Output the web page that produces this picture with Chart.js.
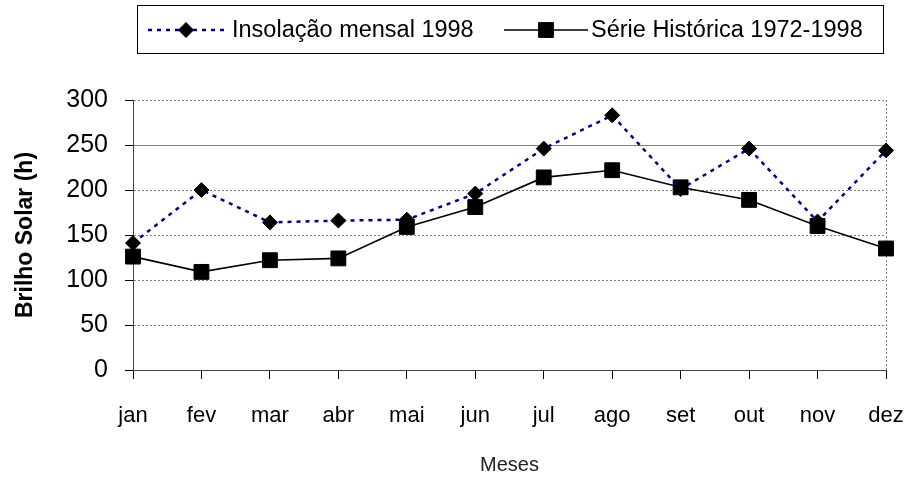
<!DOCTYPE html>
<html>
<head>
<meta charset="utf-8">
<script src="https://cdn.jsdelivr.net/npm/chart.js@4"></script>
<style>
  html, body { margin: 0; padding: 0; background: #fff; }
  #wrap { width: 904px; height: 477px; }
</style>
</head>
<body>
<div id="wrap"><canvas id="brilhoChart" width="904" height="477"></canvas></div>
<script>
// data
const months = ['jan', 'fev', 'mar', 'abr', 'mai', 'jun', 'jul', 'ago', 'set', 'out', 'nov', 'dez'];
const insolacao1998 = [141, 200, 164, 166, 167, 196, 246, 283, 201, 246, 165, 244];
const serieHistorica = [126, 109, 122, 124, 159, 181, 214, 222, 203, 189, 160, 135];
const seriesNames = ['Insolação mensal 1998', 'Série Histórica 1972-1998'];
const yTicks = [0, 50, 100, 150, 200, 250, 300];

const FONT = "'Liberation Sans', Arial, sans-serif";

// legend drawn in the top band, using each dataset's own style
const boxLegend = {
  id: 'boxLegend',
  afterDraw(chart) {
    const ctx = chart.ctx;
    const ds = chart.data.datasets;
    ctx.save();
    ctx.strokeStyle = '#000';
    ctx.lineWidth = 1;
    ctx.strokeRect(137.5, 5.5, 746, 48);

    const y = 30;
    const items = [
      { x0: 148, x1: 224, textX: 232 },
      { x0: 504, x1: 588, textX: 591 }
    ];
    items.forEach((it, i) => {
      const d = ds[i];
      ctx.beginPath();
      ctx.setLineDash(d.borderDash || []);
      ctx.strokeStyle = d.borderColor;
      ctx.lineWidth = d.borderWidth;
      ctx.moveTo(it.x0, y);
      ctx.lineTo(it.x1, y);
      ctx.stroke();
      ctx.setLineDash([]);
      ctx.fillStyle = '#000';
      ctx.strokeStyle = '#000';
      ctx.lineWidth = 1;
      Chart.helpers.drawPoint(ctx, {
        pointStyle: d.pointStyle,
        radius: d.pointRadius,
        borderWidth: 1,
        rotation: 0
      }, (it.x0 + it.x1) / 2, y);
      ctx.font = '23.5px ' + FONT;
      ctx.textBaseline = 'middle';
      ctx.fillStyle = '#000';
      ctx.fillText(seriesNames[i], it.textX, y + 1);
    });
    ctx.restore();
  }
};

const ctx = document.getElementById('brilhoChart').getContext('2d');
new Chart(ctx, {
  type: 'line',
  data: {
    labels: months,
    datasets: [
      {
        label: seriesNames[0],
        data: insolacao1998,
        borderColor: '#000080',
        borderWidth: 2.5,
        borderDash: [4, 5],
        pointStyle: 'rectRot',
        pointRadius: 7.5,
        pointBackgroundColor: '#000',
        pointBorderColor: '#000',
        pointBorderWidth: 1,
        tension: 0,
        clip: false
      },
      {
        label: seriesNames[1],
        data: serieHistorica,
        borderColor: '#000',
        borderWidth: 1.6,
        pointStyle: 'rect',
        pointRadius: 10.5,
        pointBackgroundColor: '#000',
        pointBorderColor: '#000',
        pointBorderWidth: 1,
        tension: 0,
        clip: false
      }
    ]
  },
  options: {
    responsive: false,
    animation: false,
    layout: { padding: { left: 0, right: 18, top: 100, bottom: 0 } },
    plugins: {
      legend: { display: false },
      tooltip: { enabled: false }
    },
    scales: {
      x: {
        offset: false,
        afterFit(scale) {
          scale.height = 107;
          scale.paddingLeft = 0;
          scale.paddingRight = 0;
        },
        grid: {
          drawOnChartArea: true,
          color: c => (c.index === months.length - 1 ? '#808080' : 'rgba(0,0,0,0)'),
          tickColor: '#000',
          tickLength: 9,
          tickBorderDash: []
        },
        border: { color: '#444', width: 1, dash: [2, 2] },
        ticks: {
          color: '#000',
          font: { family: FONT, size: 22 },
          padding: 24,
          maxRotation: 0,
          autoSkip: false
        },
        title: {
          display: true,
          text: 'Meses',
          color: '#222',
          font: { family: FONT, size: 20 },
          padding: { top: 0, bottom: 0 }
        }
      },
      y: {
        min: 0,
        max: 300,
        afterFit(scale) { scale.width = 133; },
        afterBuildTicks(scale) { scale.ticks = yTicks.map(v => ({ value: v })); },
        grid: {
          color: '#808080',
          lineWidth: 1,
          tickColor: '#000',
          tickLength: 8,
          tickBorderDash: []
        },
        border: {
          color: '#444',
          width: 1,
          dash: c => (c.tick && c.tick.value === 250 ? [] : [2, 2])
        },
        ticks: {
          color: '#000',
          font: { family: FONT, size: 25 },
          padding: 17
        },
        title: {
          display: true,
          text: 'Brilho Solar (h)',
          color: '#000',
          font: { family: FONT, size: 23, weight: 'bold' },
          padding: { top: 12, bottom: 0 }
        }
      }
    }
  },
  plugins: [boxLegend]
});
</script>
</body>
</html>
